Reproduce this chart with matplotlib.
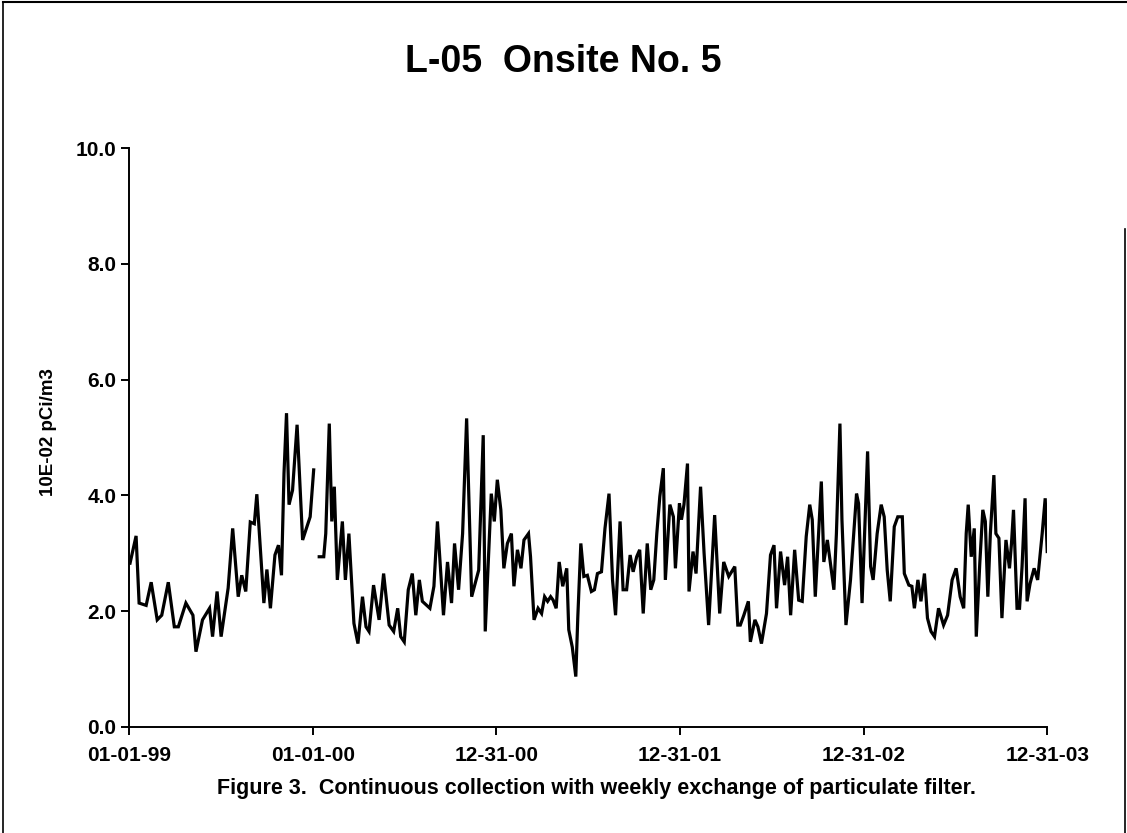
import numpy as np
import matplotlib
matplotlib.use("Agg")
import matplotlib.pyplot as plt
from matplotlib.lines import Line2D

plt.rcParams['font.family'] = ['Liberation Sans', 'DejaVu Sans']

title = "L-05  Onsite No. 5"
ylabel = "10E-02 pCi/m3"
caption = "Figure 3.  Continuous collection with weekly exchange of particulate filter."
start_date = "1999-01-01"
tick_dates = ["1999-01-01", "2000-01-01", "2000-12-31", "2001-12-31", "2002-12-31", "2003-12-31"]
tick_labels = ["01-01-99", "01-01-00", "12-31-00", "12-31-01", "12-31-02", "12-31-03"]
y_ticks = [0.0, 2.0, 4.0, 6.0, 8.0, 10.0]

# sample day offsets from 01-01-99 (1999 segment, ends at year change)
days_1999 = [2, 14, 20, 34, 44, 56, 65, 78, 90, 98, 113, 127, 133, 146, 160, 166, 175, 183,
             197, 206, 217, 224, 232, 241, 249, 254, 268, 274, 281, 290, 297, 303, 308, 313,
             318, 325, 334, 345, 360, 367]
vals_1999 = [2.83, 3.3, 2.14, 2.1, 2.5, 1.85, 1.93, 2.5, 1.73, 1.73, 2.14, 1.93, 1.3, 1.85,
             2.05, 1.56, 2.34, 1.56, 2.4, 3.43, 2.25, 2.62, 2.34, 3.54, 3.51, 4.02, 2.14, 2.72,
             2.05, 2.97, 3.14, 2.62, 4.38, 5.42, 3.84, 4.09, 5.22, 3.23, 3.63, 4.44]

days_2000 = [378, 387, 391, 398, 403, 408, 414, 424, 430, 437, 447, 455, 464, 471, 477, 486,
             497, 506, 517, 526, 534, 540, 547, 555, 563, 570, 577, 583, 598, 606, 613, 625,
             633, 641, 647, 655, 663, 671, 681, 695, 704, 708, 716, 720, 726, 732]
vals_2000 = [2.94, 2.94, 3.34, 5.24, 3.55, 4.15, 2.54, 3.55, 2.54, 3.34, 1.79, 1.44, 2.25,
             1.73, 1.65, 2.45, 1.85, 2.65, 1.76, 1.65, 2.05, 1.56, 1.47, 2.37, 2.65, 1.93,
             2.54, 2.17, 2.05, 2.43, 3.55, 1.93, 2.85, 2.14, 3.17, 2.37, 3.34, 5.33, 2.25,
             2.71, 5.04, 1.65, 3.23, 4.03, 3.55, 4.27]

days_2001 = [739, 745, 752, 760, 765, 772, 779, 785, 794, 798, 805, 813, 820, 826, 832, 838,
             843, 849, 855, 862, 870, 874, 881, 888, 892, 898, 904, 911, 919, 925, 931, 939,
             946, 954, 961, 967, 976, 982, 989, 996, 1002, 1009, 1015, 1022, 1030, 1037, 1043,
             1049, 1055, 1062, 1066, 1075, 1082, 1086, 1094]
vals_2001 = [3.75, 2.74, 3.17, 3.34, 2.43, 3.06, 2.74, 3.23, 3.34, 2.94, 1.85, 2.05, 1.96,
             2.25, 2.17, 2.25, 2.19, 2.05, 2.85, 2.43, 2.74, 1.68, 1.38, 0.87, 1.90, 3.17,
             2.60, 2.62, 2.34, 2.37, 2.65, 2.68, 3.43, 4.03, 2.54, 1.93, 3.55, 2.37, 2.37,
             2.97, 2.68, 2.94, 3.06, 1.96, 3.17, 2.37, 2.54, 3.34, 3.98, 4.47, 2.54, 3.84,
             3.63, 2.74, 3.86]

days_2002 = [1098, 1103, 1110, 1113, 1121, 1127, 1136, 1143, 1152, 1164, 1174, 1182, 1192,
             1204, 1210, 1215, 1222, 1231, 1235, 1244, 1250, 1257, 1267, 1275, 1282, 1287,
             1295, 1303, 1309, 1315, 1323, 1331, 1338, 1346, 1353, 1358, 1364, 1376, 1381,
             1388, 1401, 1406, 1413, 1417, 1425, 1434, 1446]
vals_2002 = [3.58, 3.84, 4.55, 2.34, 3.03, 2.65, 4.15, 3.0, 1.76, 3.66, 1.96, 2.85, 2.60,
             2.77, 1.76, 1.76, 1.93, 2.17, 1.47, 1.85, 1.73, 1.44, 1.96, 2.97, 3.14, 2.05,
             3.03, 2.45, 2.94, 1.93, 3.06, 2.19, 2.17, 3.29, 3.84, 3.58, 2.25, 4.24, 2.85,
             3.23, 2.37, 3.34, 5.24, 3.58, 1.76, 2.54, 4.03]

days_2003 = [1450, 1457, 1462, 1468, 1474, 1479, 1487, 1495, 1501, 1507, 1513, 1521, 1528,
             1537, 1541, 1550, 1556, 1561, 1568, 1574, 1581, 1587, 1594, 1601, 1609, 1619,
             1627, 1636, 1644, 1652, 1659, 1664, 1668, 1674, 1680, 1684, 1691, 1697, 1702,
             1707, 1712, 1719, 1723, 1729, 1735, 1743, 1750, 1754, 1758, 1765, 1770, 1775,
             1781, 1785, 1791, 1799, 1806, 1815, 1821, 1825]
vals_2003 = [3.86, 2.14, 3.34, 4.76, 2.77, 2.54, 3.34, 3.84, 3.63, 2.71, 2.17, 3.46, 3.63,
             3.63, 2.65, 2.45, 2.43, 2.05, 2.54, 2.17, 2.65, 1.88, 1.65, 1.56, 2.05, 1.76,
             1.93, 2.54, 2.74, 2.25, 2.05, 3.34, 3.84, 2.94, 3.43, 1.56, 2.83, 3.75, 3.55,
             2.25, 3.34, 4.35, 3.34, 3.26, 1.88, 3.23, 2.74, 3.17, 3.75, 2.05, 2.05, 2.77,
             3.95, 2.17, 2.48, 2.74, 2.54, 3.34, 3.95, 3.03]

fig = plt.figure(figsize=(11.27, 8.33), dpi=100)
ax = fig.add_axes([0.1145, 0.1273, 0.8147, 0.695])

t0 = np.datetime64(start_date)
seg1_x = t0 + np.array(days_1999, dtype='timedelta64[D]')
seg2_x = t0 + np.array(days_2000 + days_2001 + days_2002 + days_2003, dtype='timedelta64[D]')
seg2_y = vals_2000 + vals_2001 + vals_2002 + vals_2003

ax.plot(seg1_x, vals_1999, color='black', lw=2.3, solid_joinstyle='miter')
ax.plot(seg2_x, seg2_y, color='black', lw=2.3, solid_joinstyle='miter')

ax.set_xlim(np.datetime64(tick_dates[0]), np.datetime64(tick_dates[-1]))
ax.set_ylim(0, 10)
ax.set_xticks([np.datetime64(d) for d in tick_dates])
ax.set_xticklabels(tick_labels)
ax.set_yticks(y_ticks)
ax.set_yticklabels([f"{v:.1f}" for v in y_ticks])

for s in ['top', 'right']:
    ax.spines[s].set_visible(False)
for s in ['left', 'bottom']:
    ax.spines[s].set_linewidth(1.4)
ax.tick_params(axis='both', direction='out', length=6, width=1.4, labelsize=15)
ax.tick_params(axis='y', pad=3)
ax.tick_params(axis='x', pad=8)
for lab in ax.get_xticklabels() + ax.get_yticklabels():
    lab.set_fontweight('bold')

ax.set_ylabel(ylabel, fontsize=13.5, fontweight='bold')
ax.yaxis.set_label_coords(-0.078, 0.51)

fig.text(0.5, 0.926, title, ha='center', va='center', fontsize=27, fontweight='bold')
fig.text(0.529, 0.054, caption, ha='center', va='center', fontsize=15.5, fontweight='bold')

# page border
fig.add_artist(Line2D([0.003, 0.003], [0.0, 0.998], transform=fig.transFigure, color='black', lw=1.2))
fig.add_artist(Line2D([0.003, 0.999], [0.997, 0.997], transform=fig.transFigure, color='black', lw=1.5))
fig.add_artist(Line2D([0.9985, 0.9985], [0.0, 0.725], transform=fig.transFigure, color='black', lw=1.2))

fig.savefig("out.png", dpi=100)
